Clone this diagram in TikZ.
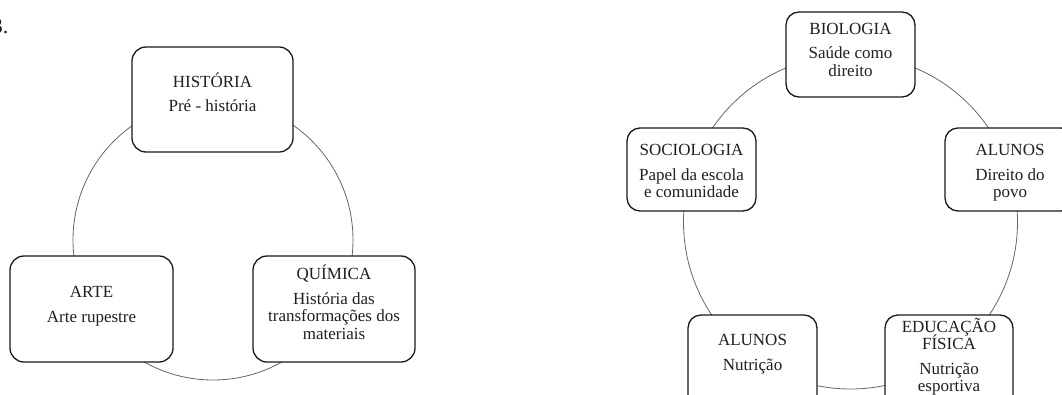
\documentclass[tikz,border=0pt]{standalone}
\usepackage{fontspec}
\setmainfont{Liberation Serif}
\begin{document}
\begin{tikzpicture}[x=1pt,y=-1pt,
  box/.style={draw=black!90,line width=1.3pt,fill=white,rounded corners=14pt},
  rbox/.style={draw=black!90,line width=1.3pt,fill=white,rounded corners=13pt},
  ring/.style={draw=black!60,line width=0.8pt},
  txt/.style={anchor=base,inner sep=0pt,text=black!88,font=\fontsize{17}{18}\selectfont}]
\useasboundingbox (0,0) rectangle (1062,394);
% text fragment at left edge (cut off in the reference too)
\node[txt,anchor=base east,font=\fontsize{22}{24}\selectfont] (num) at (8.5,33) {3.};
% ---------------- left cycle ----------------
\coordinate (c1) at (213,240);
\draw[ring] (c1) circle[radius=140];
\draw[box] (132,47) rectangle (293,152) node[midway,inner sep=0pt] (hist) {};
\draw[box] (10,256) rectangle (173,362) node[midway,inner sep=0pt] (arte) {};
\draw[box] (253,256) rectangle (415,362) node[midway,inner sep=0pt] (quim) {};
\node[txt] (hist1) at (212.5,87) {HISTÓRIA};
\node[txt] (hist2) at (212.5,111) {Pré - história};
\node[txt] (arte1) at (91.5,297) {ARTE};
\node[txt] (arte2) at (91.5,322) {Arte rupestre};
\node[txt] (quim1) at (334,279) {QUÍMICA};
\node[txt] (quim2) at (334,304) {História das};
\node[txt] (quim3) at (334,321.5) {transformações dos};
\node[txt] (quim4) at (334,339) {materiais};
% ---------------- right cycle ----------------
\coordinate (c2) at (850.5,222);
\draw[ring] (c2) circle[radius=167];
\draw[rbox] (786,12) rectangle (915,97) node[midway,inner sep=0pt] (bio) {};
\draw[rbox] (627,128) rectangle (756,211) node[midway,inner sep=0pt] (soc) {};
\draw[rbox] (945,128) rectangle (1074,211) node[midway,inner sep=0pt] (alu1) {};
\draw[rbox] (688,315) rectangle (817,415) node[midway,inner sep=0pt] (alu2) {};
\draw[rbox] (885,315) rectangle (1013,415) node[midway,inner sep=0pt] (edf) {};
\node[txt] (bio1) at (850.5,34) {BIOLOGIA};
\node[txt] (bio2) at (850.5,58.5) {Saúde como};
\node[txt] (bio3) at (850.5,76) {direito};
\node[txt] (soc1) at (691.5,155) {SOCIOLOGIA};
\node[txt] (soc2) at (691.5,180) {Papel da escola};
\node[txt] (soc3) at (691.5,197.5) {e comunidade};
\node[txt] (alu11) at (1010,155) {ALUNOS};
\node[txt] (alu12) at (1010,180) {Direito do};
\node[txt] (alu13) at (1010,197.5) {povo};
\node[txt] (alu21) at (752.5,345) {ALUNOS};
\node[txt] (alu22) at (752.5,370) {Nutrição};
\node[txt] (edf1) at (949,332) {EDUCAÇÃO};
\node[txt] (edf2) at (949,349) {FÍSICA};
\node[txt] (edf3) at (949,374) {Nutrição};
\node[txt] (edf4) at (949,391.5) {esportiva};
\end{tikzpicture}
\end{document}
